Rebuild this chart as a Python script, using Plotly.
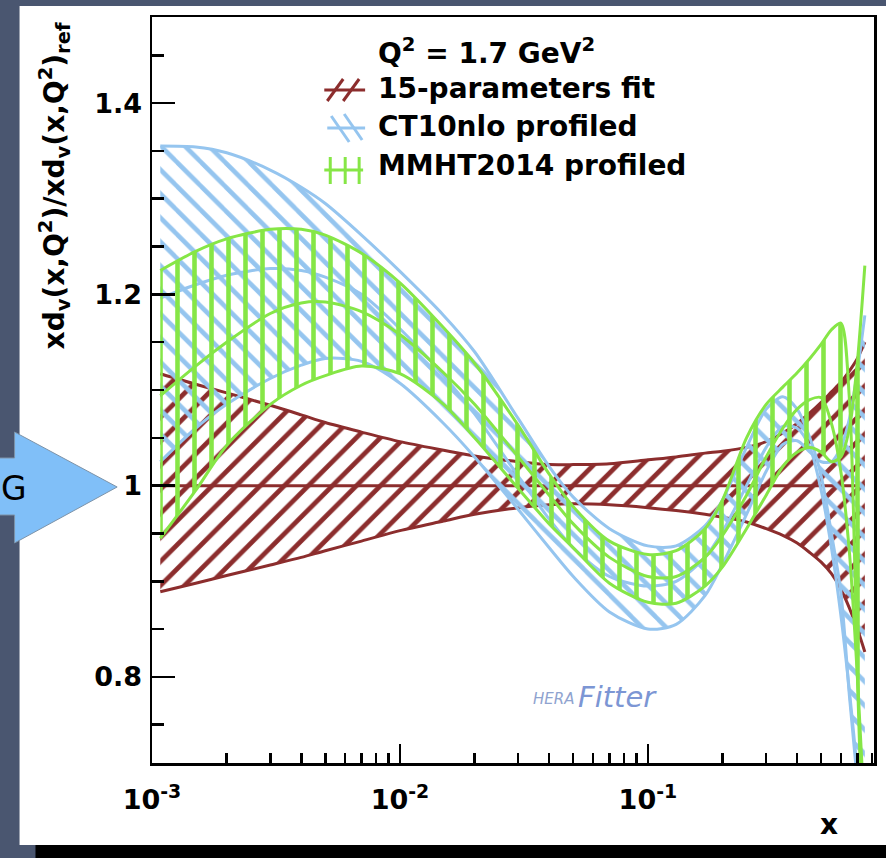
import plotly.graph_objects as go

# ---------------- data ----------------
x_vals = [0.00108, 0.0015, 0.002, 0.003, 0.004, 0.005, 0.007, 0.01, 0.015, 0.02,
          0.03, 0.04, 0.05, 0.07, 0.1, 0.13, 0.17, 0.2, 0.25, 0.3,
          0.35, 0.4, 0.45, 0.5, 0.55, 0.6, 0.65, 0.7, 0.75]

fit15_up = [1.117, 1.106, 1.097, 1.084, 1.074, 1.066, 1.056, 1.046, 1.037, 1.031,
            1.025, 1.022, 1.022, 1.023, 1.027, 1.030, 1.034, 1.036, 1.040, 1.046,
            1.055, 1.065, 1.076, 1.087, 1.098, 1.108, 1.120, 1.133, 1.150]
fit15_c = [1.0, 1.0, 1.0, 1.0, 1.0, 1.0, 1.0, 1.0, 1.0, 1.0,
           1.0, 1.0, 1.0, 1.0, 1.0, 1.0, 1.0, 1.0, 1.0, 1.0,
           1.0, 1.0, 1.0, 1.0, 1.0, 1.0, 1.0, 1.0, 1.0]
fit15_lo = [0.889, 0.898, 0.906, 0.917, 0.925, 0.932, 0.942, 0.953, 0.963, 0.970,
            0.977, 0.980, 0.981, 0.980, 0.977, 0.974, 0.970, 0.967, 0.962, 0.955,
            0.948, 0.940, 0.930, 0.920, 0.908, 0.892, 0.872, 0.850, 0.826]

ct10_up = [1.355, 1.354, 1.348, 1.330, 1.312, 1.295, 1.262, 1.224, 1.178, 1.140,
           1.070, 1.020, 0.988, 0.955, 0.937, 0.937, 0.958, 0.985, 1.040, 1.080,
           1.093, 1.080, 1.050, 1.010, 0.950, 0.889, 0.780, 0.690, 0.600]
ct10_c = [1.196, 1.210, 1.220, 1.227, 1.225, 1.218, 1.200, 1.164, 1.115, 1.075,
          1.010, 0.965, 0.935, 0.905, 0.895, 0.900, 0.925, 0.952, 1.000, 1.040,
          1.062, 1.060, 1.040, 0.995, 0.935, 0.865, 0.785, 0.700, 0.610]
ct10_lo = [1.025, 1.060, 1.085, 1.112, 1.126, 1.133, 1.130, 1.107, 1.065, 1.030,
           0.975, 0.935, 0.905, 0.868, 0.850, 0.855, 0.885, 0.918, 0.970, 1.015,
           1.043, 1.047, 1.035, 1.025, 1.025, 1.040, 1.070, 1.120, 1.178]

mmht_up = [1.225, 1.245, 1.258, 1.268, 1.268, 1.262, 1.243, 1.212, 1.165, 1.128,
           1.063, 1.012, 0.978, 0.942, 0.928, 0.932, 0.955, 0.985, 1.050, 1.085,
           1.103, 1.118, 1.133, 1.148, 1.163, 1.170, 1.090, 0.800, 0.550]
mmht_c = [1.094, 1.125, 1.150, 1.180, 1.191, 1.192, 1.182, 1.158, 1.118, 1.085,
          1.030, 0.990, 0.960, 0.925, 0.905, 0.905, 0.925, 0.948, 0.990, 1.030,
          1.060, 1.080, 1.090, 1.092, 1.065, 1.015, 0.930, 0.800, 0.650]
mmht_lo = [0.945, 0.995, 1.042, 1.085, 1.105, 1.115, 1.125, 1.117, 1.085, 1.050,
           0.997, 0.960, 0.935, 0.898, 0.878, 0.877, 0.895, 0.915, 0.955, 0.990,
           1.020, 1.035, 1.040, 1.035, 1.025, 1.030, 1.060, 1.130, 1.230]

series_names = ["15-parameters fit", "CT10nlo profiled", "MMHT2014 profiled"]
legend_title = "Q<sup>2</sup> = 1.7 GeV<sup>2</sup>"

x_major_ticks = [0.001, 0.01, 0.1]
x_major_text = ["10<sup>-3</sup>", "10<sup>-2</sup>", "10<sup>-1</sup>"]
x_minor_ticks = [0.002, 0.003, 0.004, 0.005, 0.006, 0.007, 0.008, 0.009,
                 0.02, 0.03, 0.04, 0.05, 0.06, 0.07, 0.08, 0.09,
                 0.2, 0.3, 0.4, 0.5, 0.6, 0.7, 0.8]
y_major_ticks = [0.8, 1.0, 1.2, 1.4]
y_major_text = ["0.8", "1", "1.2", "1.4"]
y_minor_ticks = [0.75, 0.85, 0.9, 0.95, 1.05, 1.1, 1.15, 1.25, 1.3, 1.35, 1.45]

# ---------------- styling ----------------
RED = "#8c2d2d"
BLUE = "#95c5ef"
GREEN = "#86e646"
FONT = "DejaVu Sans"
W, H = 886, 858
PL, PR, PT, PB = 152, 877, 17, 763   # plot frame in pixels


def px(xp):
    return (xp - PL) / (PR - PL)


def py(yp):
    return (PB - yp) / (PB - PT)


fig = go.Figure()


def add_band(lo, c, up, color, shape, solidity):
    fig.add_trace(go.Scatter(x=x_vals, y=lo, mode="lines",
                             line=dict(color=color, width=3, shape="spline", smoothing=0.8),
                             showlegend=False, hoverinfo="skip"))
    fig.add_trace(go.Scatter(x=x_vals, y=up, mode="lines", fill="tonexty",
                             fillcolor="rgba(0,0,0,0)",
                             fillpattern=dict(shape=shape, fgcolor=color, bgcolor="rgba(0,0,0,0)",
                                              fillmode="replace", size=17, solidity=solidity),
                             line=dict(color=color, width=3, shape="spline", smoothing=0.8),
                             showlegend=False, hoverinfo="skip"))
    fig.add_trace(go.Scatter(x=x_vals, y=c, mode="lines",
                             line=dict(color=color, width=3, shape="spline", smoothing=0.8),
                             showlegend=False, hoverinfo="skip"))


add_band(fit15_lo, fit15_c, fit15_up, RED, "/", 0.28)
add_band(ct10_lo, ct10_c, ct10_up, BLUE, "\\", 0.27)
add_band(mmht_lo, mmht_c, mmht_up, GREEN, "|", 0.27)

shapes = []
# white slide panel, black bottom bar
shapes.append(dict(type="rect", xref="paper", yref="paper", x0=px(19), x1=px(890),
                   y0=py(845), y1=py(6), fillcolor="white", line=dict(width=0), layer="below"))
shapes.append(dict(type="rect", xref="paper", yref="paper", x0=px(35), x1=px(890),
                   y0=py(862), y1=py(845), fillcolor="black", line=dict(width=0), layer="below"))
# arrow
pts = [(-5, 458), (14, 458), (14, 432), (117, 487), (14, 543), (14, 515), (-5, 515)]
path = "M " + " L ".join(f"{px(a):.5f},{py(b):.5f}" for a, b in pts) + " Z"
shapes.append(dict(type="path", xref="paper", yref="paper", path=path,
                   fillcolor="#80bff8", line=dict(color="#7d93a8", width=1), layer="below"))


# legend symbols
def seg(x0, y0, x1, y1, color, w=3):
    shapes.append(dict(type="line", xref="paper", yref="paper", x0=px(x0), y0=py(y0),
                       x1=px(x1), y1=py(y1), line=dict(color=color, width=w)))


seg(325, 90, 366, 90, RED)
seg(328, 101, 344, 79, RED)
seg(344, 101, 360, 79, RED)
seg(328, 128, 366, 128, BLUE)
seg(332, 116, 350, 142, BLUE)
seg(345, 114, 363, 140, BLUE)
seg(325, 170, 364, 170, GREEN)
seg(331, 157, 331, 184, GREEN)
seg(346, 157, 346, 184, GREEN)
seg(360, 157, 360, 184, GREEN)

ann = []
bold = dict(family=FONT, size=28, color="black", weight="bold")
ann.append(dict(x=px(377), y=py(51), xref="paper", yref="paper", text=legend_title,
                showarrow=False, xanchor="left", yanchor="middle", font=bold))
for name, yy in zip(series_names, [89, 127, 165]):
    ann.append(dict(x=px(377), y=py(yy), xref="paper", yref="paper", text=name,
                    showarrow=False, xanchor="left", yanchor="middle", font=bold))
# axis titles
ann.append(dict(x=px(54), y=py(186), xref="paper", yref="paper",
                text="xd<sub>v</sub>(x,Q<sup>2</sup>)/xd<sub>v</sub>(x,Q<sup>2</sup>)<sub>ref</sub>",
                textangle=-90, showarrow=False, xanchor="center", yanchor="middle", font=bold))
ann.append(dict(x=px(832), y=py(824), xref="paper", yref="paper", text="x",
                showarrow=False, xanchor="center", yanchor="middle", font=bold))
# HERAFitter logo text
ann.append(dict(x=px(578), y=py(699), xref="paper", yref="paper", text="<i>HERA</i>",
                showarrow=False, xanchor="right", yanchor="middle",
                font=dict(family=FONT, size=15, color="#8fa3cf")))
ann.append(dict(x=px(578), y=py(697), xref="paper", yref="paper", text="<i>Fitter</i>",
                showarrow=False, xanchor="left", yanchor="middle",
                font=dict(family=FONT, size=29, color="#7c96d4")))
# "G" on arrow
ann.append(dict(x=px(-2), y=py(488), xref="paper", yref="paper", text="G",
                showarrow=False, xanchor="left", yanchor="middle",
                font=dict(family=FONT, size=33, color="black")))

tickfont = dict(family=FONT, size=27, color="black", weight="bold")

fig.update_layout(
    width=W, height=H,
    margin=dict(l=PL, r=W - PR, t=PT, b=H - PB, pad=0),
    paper_bgcolor="#4a5670", plot_bgcolor="white",
    shapes=shapes, annotations=ann, showlegend=False,
    xaxis=dict(type="log", range=[-3, -0.088], showgrid=False, zeroline=False,
               showline=True, linecolor="black", linewidth=2.5, mirror=True,
               ticks="inside", ticklen=19, tickwidth=2.5, tickcolor="black",
               tickmode="array", tickvals=x_major_ticks, ticktext=x_major_text,
               tickfont=tickfont, ticklabelstandoff=11,
               minor=dict(tickmode="array", tickvals=x_minor_ticks, ticks="inside",
                          ticklen=10, tickwidth=2.5, tickcolor="black", showgrid=False)),
    yaxis=dict(range=[0.71, 1.49], showgrid=False, zeroline=False,
               showline=True, linecolor="black", linewidth=2.5, mirror=True,
               ticks="inside", ticklen=23, tickwidth=2.5, tickcolor="black",
               tickmode="array", tickvals=y_major_ticks, ticktext=y_major_text,
               tickfont=tickfont, ticklabelstandoff=2,
               minor=dict(tickmode="array", tickvals=y_minor_ticks, ticks="inside",
                          ticklen=12, tickwidth=2.5, tickcolor="black", showgrid=False)),
)

fig.write_html("out.html", config={"displayModeBar": False, "staticPlot": True},
               post_script="document.body.style.margin='0';document.body.style.overflow='hidden';")
